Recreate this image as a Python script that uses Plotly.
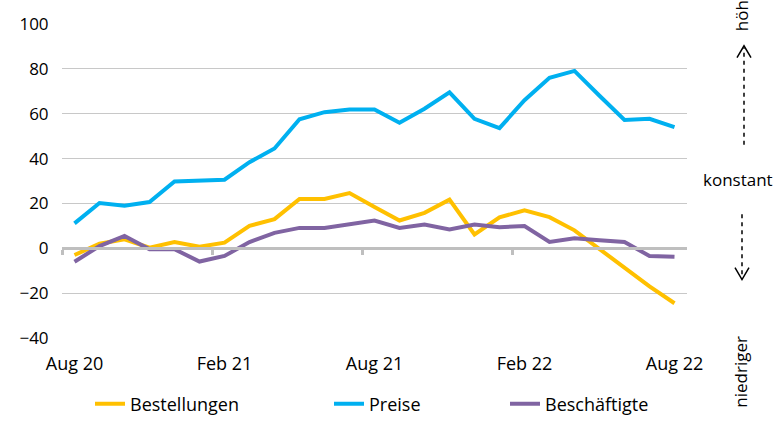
import plotly.graph_objects as go

# Monthly survey balances, Aug 2020 - Aug 2022
months = ["Aug 20", "Sep 20", "Okt 20", "Nov 20", "Dez 20", "Jan 21", "Feb 21",
          "Mär 21", "Apr 21", "Mai 21", "Jun 21", "Jul 21", "Aug 21", "Sep 21",
          "Okt 21", "Nov 21", "Dez 21", "Jan 22", "Feb 22", "Mär 22", "Apr 22",
          "Mai 22", "Jun 22", "Jul 22", "Aug 22"]
bestellungen = [-3, 2, 4, 0.3, 2.8, 0.7, 2.5, 10, 13, 22, 22, 24.6, 18.4, 12.4,
                15.8, 21.7, 6.2, 13.8, 16.9, 13.9, 8, -0.4, -8.8, -17, -24.5]
preise = [11.1, 20.2, 19, 20.6, 29.8, 30, 30.6, 38.4, 44.5, 57.5, 60.7, 61.9,
          61.9, 56, 62.2, 69.5, 57.7, 53.6, 66, 76, 79.1, 68, 57.2, 57.7, 54]
beschaeftigte = [-6, 1, 5.5, -0.4, -0.4, -5.9, -3.4, 2.8, 6.9, 9.1, 9.1, 10.6,
                 12.4, 9.1, 10.6, 8.4, 10.6, 9.4, 9.9, 2.8, 4.5, 3.6, 2.8, -3.4, -3.8]

label_months = ["Aug 20", "Feb 21", "Aug 21", "Feb 22", "Aug 22"]
y_ticks = [-40, -20, 0, 20, 40, 60, 80, 100]

x = list(range(len(months)))
label_pos = [months.index(m) for m in label_months]
boundary_pos = [p - 0.5 for p in label_pos[:-1]]

FONT = "Open Sans"
COL_Y = "#FFC000"
COL_B = "#00B0F0"
COL_P = "#8064A2"

fig = go.Figure()
for name, vals, col, leg in [("Bestellungen", bestellungen, COL_Y, "legend"),
                             ("Preise", preise, COL_B, "legend2"),
                             ("Beschäftigte", beschaeftigte, COL_P, "legend3")]:
    fig.add_trace(go.Scatter(x=x, y=vals, name=name, mode="lines",
                             line=dict(color=col, width=4), legend=leg,
                             hovertemplate="%{y}<extra>" + name + "</extra>"))

# zero axis line with half-year ticks between categories
fig.add_trace(go.Scatter(x=[None], y=[None], xaxis="x2", showlegend=False))

leg_common = dict(orientation="h", yanchor="middle", y=-0.21, xanchor="left",
                  font=dict(family=FONT, size=18, color="#000"),
                  bgcolor="rgba(0,0,0,0)", itemwidth=30)
L, R, T, B = 62, 90, 21, 98
W = 777 - L - R
H = 436 - T - B


def px_x(p):
    return (p - L) / W


def px_y(p):
    return (436 - B - p) / H


fig.update_layout(
    width=777, height=436,
    margin=dict(l=L, r=R, t=T, b=B),
    paper_bgcolor="white", plot_bgcolor="white",
    font=dict(family=FONT, size=18, color="#000"),
    legend=dict(leg_common, x=px_x(90)),
    legend2=dict(leg_common, x=px_x(329)),
    legend3=dict(leg_common, x=px_x(505)),
    xaxis=dict(range=[-0.5, len(months) - 0.5], tickvals=label_pos,
               ticktext=label_months, showgrid=False, zeroline=False,
               showline=False, ticks="outside", ticklen=9,
               tickcolor="rgba(0,0,0,0)",
               tickfont=dict(family=FONT, size=18, color="#000")),
    xaxis2=dict(range=[-0.5, len(months) - 0.5], overlaying="x", anchor="free",
                position=40 / 140, tickvals=[-0.5] + boundary_pos,
                showticklabels=False, showgrid=False, zeroline=False,
                showline=True, linecolor="#BFBFBF", linewidth=3,
                ticks="outside", ticklen=5, tickwidth=3, tickcolor="#BFBFBF"),
    yaxis=dict(range=[-40, 100], tickvals=y_ticks, showgrid=True,
               gridcolor="#C8C8C8", gridwidth=1, zeroline=False,
               showline=False, ticks="outside", ticklen=9,
               tickcolor="rgba(0,0,0,0)",
               tickfont=dict(family=FONT, size=17, color="#000")),
)

# right-hand scale description
ann_font = dict(family=FONT, size=17, color="#000")
common_ann = dict(xref="paper", yref="paper", showarrow=False, font=ann_font,
                  xanchor="center", yanchor="middle")
fig.add_annotation(common_ann, text="höher", x=px_x(741), y=px_y(4), textangle=-90)
fig.add_annotation(common_ann, text="konstant", x=px_x(738), y=px_y(178))
fig.add_annotation(common_ann, text="niedriger", x=px_x(741), y=px_y(372), textangle=-90)

arrow_line = dict(color="#000", width=1.5)
# upward dashed arrow
fig.add_shape(type="line", xref="paper", yref="paper", x0=px_x(744), x1=px_x(744),
              y0=px_y(143), y1=px_y(45), line=dict(arrow_line, dash="4px,4px"))
fig.add_shape(type="path", xref="paper", yref="paper",
              path=f"M {px_x(737)},{px_y(55)} L {px_x(744)},{px_y(43)} L {px_x(751)},{px_y(55)}",
              line=arrow_line)
# downward dashed arrow
fig.add_shape(type="line", xref="paper", yref="paper", x0=px_x(742), x1=px_x(742),
              y0=px_y(213), y1=px_y(277), line=dict(arrow_line, dash="4px,4px"))
fig.add_shape(type="path", xref="paper", yref="paper",
              path=f"M {px_x(735)},{px_y(267)} L {px_x(742)},{px_y(279)} L {px_x(749)},{px_y(267)}",
              line=arrow_line)

fig.write_html("out.html")
